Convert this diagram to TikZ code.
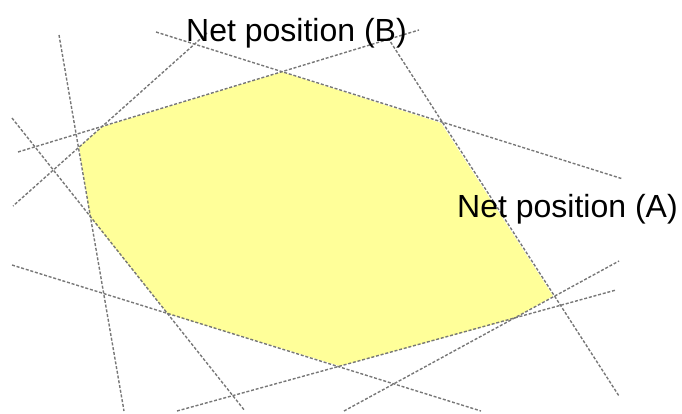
\documentclass[tikz,border=0pt]{standalone}
\usepackage{fontspec}
\setmainfont{Liberation Sans}
\definecolor{fillyellow}{HTML}{FFFF99}
\definecolor{linegray}{HTML}{777777}
\tikzset{
  bound/.style={draw=linegray, line width=1.4pt, dash pattern=on 3pt off 1.8pt},
  region/.style={fill=fillyellow, draw=none},
  lbl/.style={inner sep=0pt, anchor=base west, font=\fontsize{32}{38}\selectfont}
}
\begin{document}
\begin{tikzpicture}[x=1pt,y=-1pt]
\useasboundingbox (0,0) rectangle (682,414);
% feasible region
\fill[region] (79,147) -- (102,127) -- (282,72) -- (441,123) -- (553,296) -- (513,319) -- (340,366) -- (168,314) -- (90,217) -- cycle;
% constraint lines
\coordinate (a1) at (59,35);   \coordinate (a2) at (124,411);
\coordinate (b1) at (18,152);  \coordinate (b2) at (419,30);
\coordinate (c1) at (156,32);  \coordinate (c2) at (623,179);
\coordinate (d1) at (388,38);  \coordinate (d2) at (619,396);
\coordinate (e1) at (207,33);  \coordinate (e2) at (13,206);
\coordinate (f1) at (12,118);  \coordinate (f2) at (245,411);
\coordinate (g1) at (12,265);  \coordinate (g2) at (481,411);
\coordinate (h1) at (177,411); \coordinate (h2) at (616,290);
\coordinate (k1) at (344,411); \coordinate (k2) at (619,261);
\draw[bound] (a1) -- (a2);
\draw[bound] (b1) -- (b2);
\draw[bound] (c1) -- (c2);
\draw[bound] (d1) -- (d2);
\draw[bound] (e1) -- (e2);
\draw[bound] (f1) -- (f2);
\draw[bound] (g1) -- (g2);
\draw[bound] (h1) -- (h2);
\draw[bound] (k1) -- (k2);
% labels
\node[lbl] (netB) at (186,42) {Net position (B)};
\node[lbl] (netA) at (457,217) {Net position (A)};
\end{tikzpicture}
\end{document}
